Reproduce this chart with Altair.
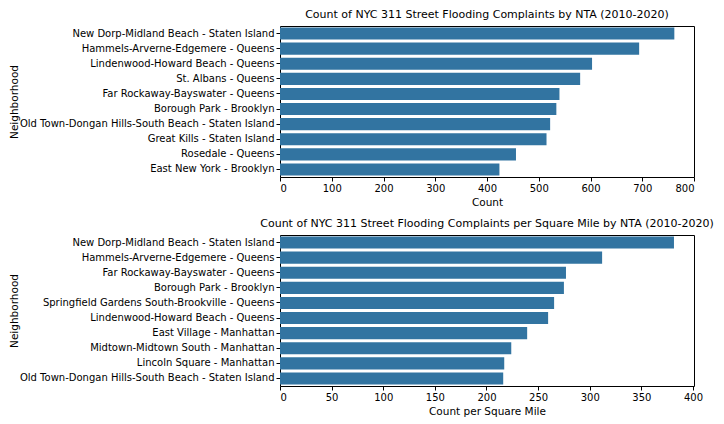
import altair as alt
import pandas as pd

nta_count = [
    "New Dorp-Midland Beach - Staten Island",
    "Hammels-Arverne-Edgemere - Queens",
    "Lindenwood-Howard Beach - Queens",
    "St. Albans - Queens",
    "Far Rockaway-Bayswater - Queens",
    "Borough Park - Brooklyn",
    "Old Town-Dongan Hills-South Beach - Staten Island",
    "Great Kills - Staten Island",
    "Rosedale - Queens",
    "East New York - Brooklyn",
]
counts = [762, 694, 603, 580, 540, 534, 522, 515, 456, 424]

nta_density = [
    "New Dorp-Midland Beach - Staten Island",
    "Hammels-Arverne-Edgemere - Queens",
    "Far Rockaway-Bayswater - Queens",
    "Borough Park - Brooklyn",
    "Springfield Gardens South-Brookville - Queens",
    "Lindenwood-Howard Beach - Queens",
    "East Village - Manhattan",
    "Midtown-Midtown South - Manhattan",
    "Lincoln Square - Manhattan",
    "Old Town-Dongan Hills-South Beach - Staten Island",
]
density = [381.6, 312, 277, 275, 265.5, 259.7, 239.4, 224, 217.2, 216.2]

BAR = "#3274a1"
FONT = "DejaVu Sans"
W, H = 414, 151

df1 = pd.DataFrame({"Neighborhood": nta_count, "Count": counts})
df2 = pd.DataFrame({"Neighborhood": nta_density, "Density": density})

yscale = alt.Scale(paddingInner=0.2, paddingOuter=0.1)

def yaxis():
    return alt.Axis(title="Neighborhood", labelLimit=400,
                    titleX=-266, titleY=H / 2, titleAngle=270,
                    titleAlign="center", titleBaseline="middle")

c1 = alt.Chart(df1, title=alt.Title(
    "Count of NYC 311 Street Flooding Complaints by NTA (2010-2020)",
    offset=6)).mark_bar(color=BAR).encode(
    x=alt.X("Count:Q", title="Count",
            scale=alt.Scale(domain=[0, 800], nice=False),
            axis=alt.Axis(values=[0, 100, 200, 300, 400, 500, 600, 700, 800])),
    y=alt.Y("Neighborhood:N", sort=nta_count, scale=yscale, axis=yaxis()),
).properties(width=W, height=H)

c2 = alt.Chart(df2, title=alt.Title(
    "Count of NYC 311 Street Flooding Complaints per Square Mile by NTA (2010-2020)",
    offset=6)).mark_bar(color=BAR).encode(
    x=alt.X("Density:Q", title="Count per Square Mile",
            scale=alt.Scale(domain=[0, 401], nice=False),
            axis=alt.Axis(values=[0, 50, 100, 150, 200, 250, 300, 350, 400])),
    y=alt.Y("Neighborhood:N", sort=nta_density, scale=yscale, axis=yaxis()),
).properties(width=W, height=H)

chart = alt.vconcat(c1, c2, spacing=9).properties(padding=0).configure_view(
    stroke="#000000", strokeWidth=1
).configure_axis(
    grid=False, domain=False, tickColor="#000000", tickSize=4, tickWidth=1,
    labelFont=FONT, labelFontSize=10, labelColor="#000000", labelPadding=2,
    titleFont=FONT, titleFontSize=10.5, titleColor="#000000", titleFontWeight="normal",
).configure_axisX(titlePadding=4).configure_title(
    font=FONT, fontSize=11, fontWeight="normal", color="#000000", anchor="middle"
)

chart.save("out.html", embed_options={"renderer": "svg", "actions": False})
